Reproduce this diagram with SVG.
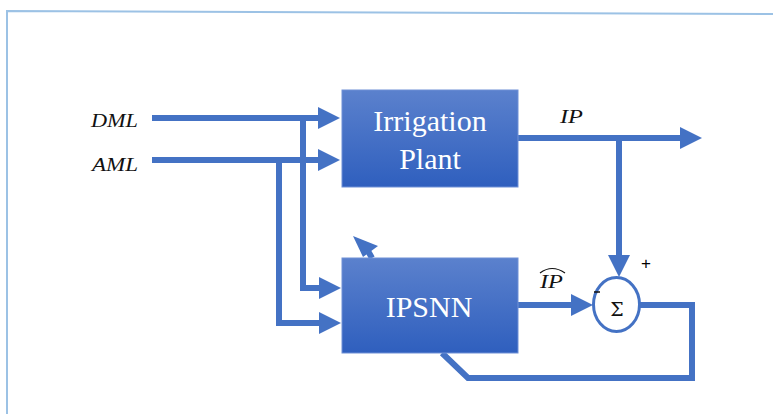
<svg xmlns="http://www.w3.org/2000/svg" width="773" height="414" viewBox="0 0 773 414">
<style>
.ln{fill:none;stroke:#4472c4;stroke-width:6;stroke-linejoin:miter}
.box{stroke:#6f90d6;stroke-width:1}
.bt{font-family:"Liberation Serif","Times New Roman",serif;font-size:30px;fill:#ffffff;text-anchor:middle}
.mt{font-family:"Liberation Serif","Times New Roman",serif;font-style:italic;font-size:19px;fill:#111111}
.sm{font-family:"Liberation Sans",Arial,sans-serif;font-size:17px;fill:#000000;text-anchor:middle}
</style>
<defs>
<linearGradient id="g" x1="0" y1="0" x2="0" y2="1">
<stop offset="0" stop-color="#5b81cd"/>
<stop offset="1" stop-color="#2f5fbe"/>
</linearGradient>
<marker id="ah" viewBox="0 0 22 24" refX="2" refY="12" markerWidth="22" markerHeight="24" markerUnits="userSpaceOnUse" orient="auto">
<path d="M0,1 L22,12 L0,23 z" fill="#4472c4"/>
</marker>
</defs>
<rect width="773" height="414" fill="#ffffff"/>
<path d="M7,414 V11 L773,14" fill="none" stroke="#9cc2e5" stroke-width="2"/>
<g id="connectors">
<path class="ln" d="M152,118 H320" marker-end="url(#ah)"/>
<path class="ln" d="M152,160 H320" marker-end="url(#ah)"/>
<path class="ln" d="M303,118 V288 H321" marker-end="url(#ah)"/>
<path class="ln" d="M279,160 V323 H321" marker-end="url(#ah)"/>
<path class="ln" d="M518,138 H682" marker-end="url(#ah)"/>
<path class="ln" d="M619,138 V257" marker-end="url(#ah)"/>
<path class="ln" d="M518,305 H573" marker-end="url(#ah)"/>
<path class="ln" d="M640,305 H692 V378 H468 L442,353"/>
<path class="ln" d="M372,258 L368,251"/>
<polygon points="353,236 378,246 363,257" fill="#4472c4"/>
</g>
<g id="plant">
<rect class="box" x="342" y="90" width="176" height="97" fill="url(#g)"/>
<text class="bt" x="430" y="131">Irrigation</text>
<text class="bt" x="430" y="169">Plant</text>
</g>
<g id="ipsnn">
<rect class="box" x="342" y="258" width="176" height="95" fill="url(#g)"/>
<text class="bt" x="429" y="317">IPSNN</text>
</g>
<g id="sum">
<ellipse cx="616.5" cy="304.5" rx="23" ry="27" fill="#ffffff" stroke="#4472c4" stroke-width="3"/>
<text x="617" y="316" font-family="'DejaVu Serif',serif" font-size="19" fill="#111111" text-anchor="middle">Σ</text>
</g>
<g id="labels">
<text class="mt" x="91" y="127" textLength="47" lengthAdjust="spacingAndGlyphs">DML</text>
<text class="mt" x="92" y="171" textLength="46" lengthAdjust="spacingAndGlyphs">AML</text>
<text class="mt" x="560" y="123" textLength="23" lengthAdjust="spacingAndGlyphs">IP</text>
<text class="mt" x="540" y="288" textLength="23" lengthAdjust="spacingAndGlyphs">IP</text>
<path d="M540,273 Q552,264 565,273" fill="none" stroke="#111111" stroke-width="1.2"/>
<text class="sm" x="646" y="269">+</text>
<path d="M594,292 H600" stroke="#111111" stroke-width="1.5"/>
</g>
</svg>
